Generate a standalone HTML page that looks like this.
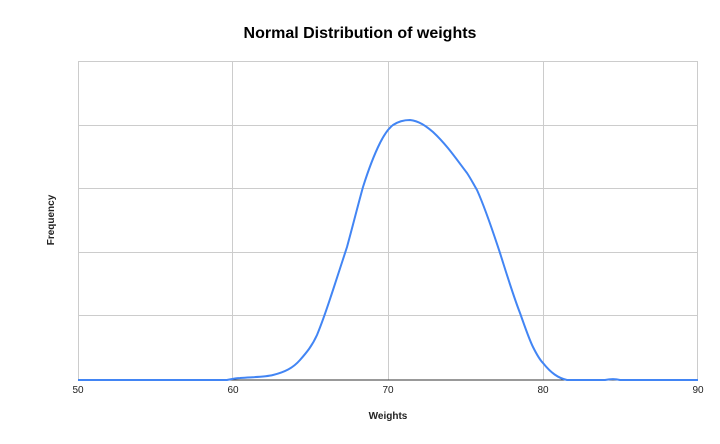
<!DOCTYPE html>
<html><head><style>body{margin:0;background:#fff}svg{display:block}</style></head><body>
<svg width="720" height="444" xmlns="http://www.w3.org/2000/svg" font-family="Liberation Sans, Arial, sans-serif">
<rect width="720" height="444" fill="#fff"/>
<text x="360" y="38" text-anchor="middle" font-size="16" font-weight="bold" fill="#000">Normal Distribution of weights</text>
<g stroke="#ccc" stroke-width="1">
<line x1="78" y1="61.5" x2="698" y2="61.5"/>
<line x1="78" y1="125.5" x2="698" y2="125.5"/>
<line x1="78" y1="188.5" x2="698" y2="188.5"/>
<line x1="78" y1="252.5" x2="698" y2="252.5"/>
<line x1="78" y1="315.5" x2="698" y2="315.5"/>
<line x1="78.5" y1="61" x2="78.5" y2="380"/>
<line x1="232.5" y1="61" x2="232.5" y2="380"/>
<line x1="388.5" y1="61" x2="388.5" y2="380"/>
<line x1="543.5" y1="61" x2="543.5" y2="380"/>
<line x1="697.5" y1="61" x2="697.5" y2="380"/>
</g>
<line x1="78" y1="380" x2="698" y2="380" stroke="#333" stroke-width="1"/>
<path d="M78,380 L227,380 C232,379 236,378 240,378 C255,377 265,377 273,375 C285,372 293,368 300,360 C307,352 312,346 317,335 C324,318 328,305 333,290 C338,275 342,262 347,247 C353,225 358,205 363,187 C369,168 374,155 380,143 C385,133 389,128 393,125 C399,121 404,120 410,120 C419,121 426,126 433,132 C447,145 457,160 467,173 C471,179 474,185 477,190 C486,210 493,232 500,253 C507,275 513,295 520,313 C525,327 529,339 533,347 C537,355 540,360 543,363 C551,373 558,378 567,380 L605,380 C610,379 616,379 620,380 L698,380" fill="none" stroke="#4285f4" stroke-width="2"/>
<g font-size="10" fill="#222" text-anchor="middle">
<text x="78" y="393">50</text>
<text x="233" y="393">60</text>
<text x="388" y="393">70</text>
<text x="543" y="393">80</text>
<text x="698" y="393">90</text>
</g>
<text x="388" y="419" text-anchor="middle" font-size="10" font-weight="bold" fill="#222">Weights</text>
<text transform="translate(54,220) rotate(-90)" text-anchor="middle" font-size="10" font-weight="bold" fill="#222">Frequency</text>
</svg>
</body></html>
